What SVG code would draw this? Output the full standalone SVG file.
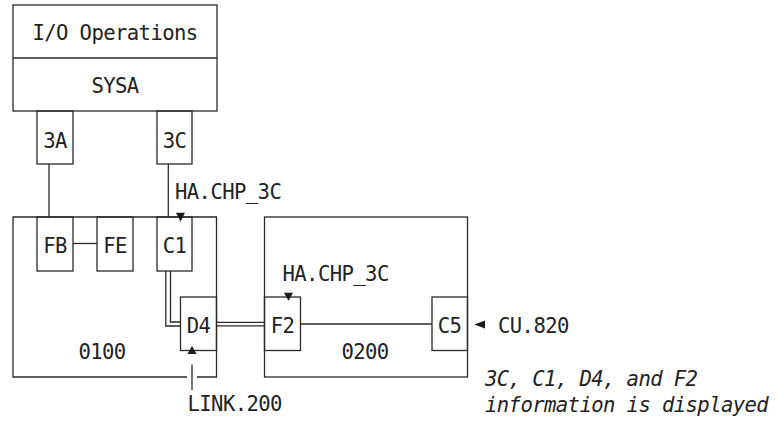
<svg xmlns="http://www.w3.org/2000/svg" width="777" height="421" viewBox="0 0 777 421">
<defs>
<style>
.b{fill:none;stroke:#2a2a2a;stroke-width:1.3}
.t{font-family:"DejaVu Sans Mono","Liberation Mono",monospace;font-size:20.6px;letter-spacing:-0.6px;fill:#222}
.m{text-anchor:middle}
.i{font-style:italic}
.a{fill:#1a1a1a}
</style>
</defs>
<rect width="777" height="421" fill="#fff"/>
<g id="sysa">
<rect class="b" x="13" y="5" width="204" height="106"/>
<line class="b" x1="13" y1="58" x2="217" y2="58"/>
<text class="t m" x="115" y="40">I/O Operations</text>
<text class="t m" x="115" y="93">SYSA</text>
</g>
<g id="chp3A">
<rect class="b" x="37" y="111" width="36" height="53"/>
<text class="t m" x="55" y="148">3A</text>
</g>
<g id="chp3C">
<rect class="b" x="157" y="111" width="35" height="53"/>
<text class="t m" x="174.5" y="148">3C</text>
</g>
<g id="sw0100">
<path class="b" d="M187,377 H13 V217 H216.5 V377 H197"/>
<text class="t m" x="102" y="358.5">0100</text>
</g>
<g id="FB">
<rect class="b" x="37" y="217" width="36" height="54"/>
<text class="t m" x="55" y="252.5">FB</text>
</g>
<g id="FE">
<rect class="b" x="97" y="217" width="36" height="54"/>
<text class="t m" x="115" y="252.5">FE</text>
</g>
<g id="C1">
<rect class="b" x="157" y="217" width="35" height="54"/>
<text class="t m" x="174.5" y="252.5">C1</text>
</g>
<g id="D4">
<rect class="b" x="180.5" y="297" width="36" height="53.5"/>
<text class="t m" x="198.5" y="332.5">D4</text>
</g>
<g id="sw0200">
<rect class="b" x="264.5" y="217" width="203" height="160"/>
<text class="t m" x="365" y="358.5">0200</text>
</g>
<g id="F2">
<rect class="b" x="264.5" y="297" width="36" height="53.5"/>
<text class="t m" x="282.5" y="332.5">F2</text>
</g>
<g id="C5">
<rect class="b" x="432" y="297" width="35.5" height="53.5"/>
<text class="t m" x="449.5" y="332.5">C5</text>
</g>
<g id="connectors">
<line class="b" x1="49" y1="164" x2="49" y2="217"/>
<line class="b" x1="168.3" y1="164" x2="168.3" y2="217"/>
<line class="b" x1="73" y1="243.5" x2="97" y2="243.5"/>
<path class="b" d="M165.8,271 V326 H180.5"/>
<path class="b" d="M170.5,271 V322 H180.5"/>
<line class="b" x1="216.5" y1="322.3" x2="264.5" y2="322.3"/>
<line class="b" x1="216.5" y1="325.8" x2="264.5" y2="325.8"/>
<line class="b" x1="300.5" y1="324" x2="432" y2="324"/>
<line class="b" x1="192" y1="364.5" x2="192" y2="390"/>
</g>
<g id="arrows">
<polygon class="a" points="176,212.7 185,212.7 180.5,221.7"/>
<polygon class="a" points="284,292.7 293,292.7 288.5,300.7"/>
<polygon class="a" points="187.5,354 196.5,354 192,346"/>
<polygon class="a" points="474.3,324.5 485,320.5 485,328.5"/>
</g>
<g id="labels">
<text class="t" x="175" y="198.5">HA.CHP_3C</text>
<text class="t" x="282.5" y="280.5">HA.CHP_3C</text>
<text class="t" x="498" y="332.5">CU.820</text>
<text class="t" x="187.5" y="411">LINK.200</text>
<text class="t i" x="485" y="386">3C, C1, D4, and F2</text>
<text class="t i" x="485" y="412">information is displayed</text>
</g>
</svg>
